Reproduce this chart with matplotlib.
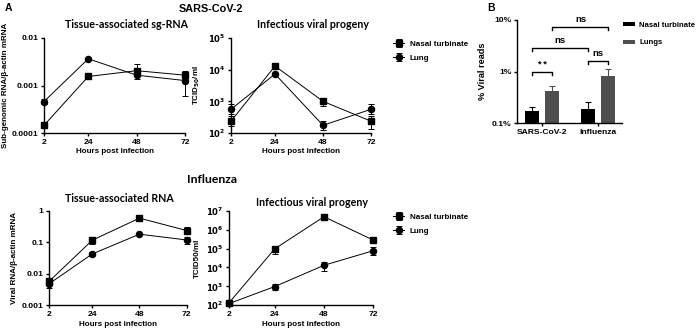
import matplotlib
matplotlib.use("Agg")
import matplotlib.pyplot as plt
import numpy as np

# ---------------- data ----------------
hours = [2, 24, 48, 72]

# SARS-CoV-2 tissue-associated sg-RNA
sars_rna_nasal = [1.45e-4, 1.55e-3, 2.05e-3, 1.65e-3]
sars_rna_nasal_lo = [1.30e-4, 1.35e-3, 1.60e-3, 1.40e-3]
sars_rna_nasal_hi = [1.60e-4, 1.80e-3, 2.80e-3, 2.00e-3]
sars_rna_lung = [4.6e-4, 3.65e-3, 1.65e-3, 1.27e-3]
sars_rna_lung_lo = [4.0e-4, 3.5e-3, 1.40e-3, 6.1e-4]
sars_rna_lung_hi = [5.2e-4, 3.8e-3, 2.00e-3, 1.80e-3]

# SARS-CoV-2 infectious viral progeny
sars_tcid_nasal = [236, 1.3e4, 1000, 236]
sars_tcid_nasal_lo = [170, 1.1e4, 710, 138]
sars_tcid_nasal_hi = [340, 1.55e4, 1310, 340]
sars_tcid_lung = [560, 7300, 175, 560]
sars_tcid_lung_lo = [400, 6800, 128, 384]
sars_tcid_lung_hi = [800, 7800, 240, 800]

# Influenza tissue-associated RNA
flu_rna_nasal = [0.0057, 0.116, 0.58, 0.235]
flu_rna_nasal_lo = [0.0050, 0.090, 0.47, 0.18]
flu_rna_nasal_hi = [0.0065, 0.140, 0.72, 0.30]
flu_rna_lung = [0.0048, 0.0425, 0.18, 0.118]
flu_rna_lung_lo = [0.0035, 0.037, 0.165, 0.09]
flu_rna_lung_hi = [0.0060, 0.048, 0.195, 0.15]

# Influenza infectious viral progeny
flu_tcid_nasal = [140, 9.5e4, 4.8e6, 2.8e5]
flu_tcid_nasal_lo = [120, 4.9e4, 4.4e6, 2.3e5]
flu_tcid_nasal_hi = [165, 1.35e5, 5.2e6, 3.5e5]
flu_tcid_lung = [125, 970, 1.3e4, 7.7e4]
flu_tcid_lung_lo = [110, 645, 6.8e3, 4.6e4]
flu_tcid_lung_hi = [140, 1340, 2.0e4, 1.15e5]

# Panel B: % viral reads
viruses = ["SARS-CoV-2", "Influenza"]
reads_nasal = [0.175, 0.187]
reads_nasal_err = [0.035, 0.073]
reads_lungs = [0.43, 0.82]
reads_lungs_err = [0.09, 0.33]
reads_ticks = [0.1, 1, 10]
reads_ticklabels = ["0.1%", "1%", "10%"]

series_names = ["Nasal turbinate", "Lung"]
bar_names = ["Nasal turbinate", "Lungs"]

# ---------------- style ----------------
W, H = 697, 331
plt.rcParams['font.family'] = ['Liberation Sans', 'DejaVu Sans']
plt.rcParams['font.weight'] = 'bold'
plt.rcParams['axes.labelweight'] = 'bold'
plt.rcParams['mathtext.default'] = 'bf'
fig = plt.figure(figsize=(W / 100, H / 100), dpi=100)
TITLE_FONT = ['Lato', 'DejaVu Sans']
FS = 6.1
LFS = 5.8


def rect(x0, x1, ytop, ybot):
    return [x0 / W, 1 - ybot / H, (x1 - x0) / W, (ybot - ytop) / H]


def style_axes(ax):
    for s in ['top', 'right']:
        ax.spines[s].set_visible(False)
    for s in ['left', 'bottom']:
        ax.spines[s].set_linewidth(1.0)
    ax.tick_params(axis='both', which='major', length=2.5, width=1.0,
                   labelsize=FS, pad=1.5)
    for lab in ax.get_xticklabels() + ax.get_yticklabels():
        lab.set_fontweight('bold')
    ax.minorticks_off()


def line_panel(r, nasal, nlo, nhi, lung, llo, lhi, ylim, yticks, yticklabels,
               ylabel, ylabelpad, title, title_xy, legend_y=None):
    ax = fig.add_axes(r)
    ax.set_yscale('log')
    nasal = np.array(nasal); lung = np.array(lung)
    kw = dict(color='black', lw=0.7, elinewidth=0.7, capsize=2.0,
              capthick=0.7, clip_on=False, ms=4.4)
    h1 = ax.errorbar(hours, nasal, yerr=[nasal - np.array(nlo), np.array(nhi) - nasal],
                     marker='s', label=series_names[0], **kw)
    h2 = ax.errorbar(hours, lung, yerr=[lung - np.array(llo), np.array(lhi) - lung],
                     marker='o', label=series_names[1], **kw)
    ax.set_xlim(2, 72)
    ax.set_ylim(*ylim)
    ax.set_xticks(hours)
    ax.set_xticklabels([str(h) for h in hours])
    ax.set_yticks(yticks)
    ax.set_yticklabels(yticklabels)
    style_axes(ax)
    ax.set_xlabel("Hours post infection", fontsize=LFS, labelpad=2, fontweight='bold')
    ax.set_ylabel(ylabel, fontsize=LFS, labelpad=ylabelpad, fontweight='bold')
    fig.text(title_xy[0] / W, 1 - title_xy[1] / H, title, family=TITLE_FONT,
             weight='bold', fontsize=7.7, ha='center', va='center')
    if legend_y is not None:
        ax.legend(handles=[h1, h2], loc='upper left',
                  bbox_to_anchor=(393 / W, 1 - legend_y / H),
                  bbox_transform=fig.transFigure, frameon=False,
                  prop=dict(size=LFS, weight='bold'), handlelength=1.4,
                  handletextpad=0.7, labelspacing=0.85, borderaxespad=0, borderpad=0)
    return ax


sup = lambda e: r'$\mathbf{10^{%d}}$' % e

ax1 = line_panel(rect(44, 185, 38, 133), sars_rna_nasal, sars_rna_nasal_lo, sars_rna_nasal_hi,
                 sars_rna_lung, sars_rna_lung_lo, sars_rna_lung_hi,
                 (1e-4, 1e-2), [1e-4, 1e-3, 1e-2], ["0.0001", "0.001", "0.01"],
                 "Sub-genomic RNA/β-actin mRNA", 2, "Tissue-associated sg-RNA", (126, 25))
ax2 = line_panel(rect(231, 371, 38, 133), sars_tcid_nasal, sars_tcid_nasal_lo, sars_tcid_nasal_hi,
                 sars_tcid_lung, sars_tcid_lung_lo, sars_tcid_lung_hi,
                 (1e2, 1e5), [1e2, 1e3, 1e4, 1e5], [sup(e) for e in [2, 3, 4, 5]],
                 r'TCID$_{\mathbf{50}}$/ml', 4, "Infectious viral progeny", (313, 25), legend_y=40)
ax3 = line_panel(rect(49, 186.7, 210.7, 305.3), flu_rna_nasal, flu_rna_nasal_lo, flu_rna_nasal_hi,
                 flu_rna_lung, flu_rna_lung_lo, flu_rna_lung_hi,
                 (1e-3, 1), [1e-3, 1e-2, 1e-1, 1], ["0.001", "0.01", "0.1", "1"],
                 "Viral RNA/β-actin mRNA", 3, "Tissue-associated RNA", (119, 198))
ax4 = line_panel(rect(229.3, 373.3, 210.7, 305.3), flu_tcid_nasal, flu_tcid_nasal_lo, flu_tcid_nasal_hi,
                 flu_tcid_lung, flu_tcid_lung_lo, flu_tcid_lung_hi,
                 (1e2, 1e7), [1e2, 1e3, 1e4, 1e5, 1e6, 1e7], [sup(e) for e in range(2, 8)],
                 "TCID50/ml", 4, "Infectious viral progeny", (312, 202), legend_y=213)

# headings
fig.text(5 / W, 1 - 8 / H, "A", fontsize=7.5, weight='bold', va='center', ha='left')
fig.text(487 / W, 1 - 8 / H, "B", fontsize=7.5, weight='bold', va='center', ha='left')
fig.text(211 / W, 1 - 9 / H, "SARS-CoV-2", fontsize=7.8, weight='bold', va='center', ha='center')
fig.text(212 / W, 1 - 179 / H, "Influenza", family=TITLE_FONT, fontsize=8.8, weight='bold',
         va='center', ha='center')

# ---------------- panel B ----------------
axb = fig.add_axes(rect(517.3, 621.7, 20, 123.3))
axb.set_yscale('log')
x = np.arange(len(viruses))
off, bw = 0.183, 0.25
axb.bar(x - off, reads_nasal, bw, yerr=reads_nasal_err, color='black',
        error_kw=dict(elinewidth=0.8, capsize=2.2, capthick=0.8, ecolor='black'),
        label=bar_names[0])
axb.bar(x + off, reads_lungs, bw, yerr=reads_lungs_err, color='#4f4f4f',
        error_kw=dict(elinewidth=0.8, capsize=2.2, capthick=0.8, ecolor='#4f4f4f'),
        label=bar_names[1])
axb.set_ylim(0.1, 10)
axb.set_xlim(-0.446, 1.42)
axb.set_yticks(reads_ticks)
axb.set_yticklabels(reads_ticklabels)
axb.set_xticks(x)
axb.set_xticklabels(viruses)
style_axes(axb)
axb.set_ylabel("% Viral reads", fontsize=6.6, labelpad=4, fontweight='bold')

# significance brackets (between bar centres)
brackets = [(0 - off, 0 + off, 1.0, "* *"),
            (0 - off, 1 - off, 2.9, "ns"),
            (1 - off, 1 + off, 1.63, "ns"),
            (0 + off, 1 + off, 7.4, "ns")]
for xa, xb, yv, txt in brackets:
    leg = yv / 1.18
    axb.plot([xa, xa, xb, xb], [leg, yv, yv, leg], color='black', lw=1.0, clip_on=False)
    axb.text((xa + xb) / 2, yv * 1.12, txt, ha='center', va='bottom', fontsize=6.8,
             weight='bold')

axb.legend(loc='upper left', bbox_to_anchor=(623 / W, 1 - 22 / H),
           bbox_transform=fig.transFigure, frameon=False,
           prop=dict(size=5.6, weight='bold'),
           handlelength=1.5, handleheight=0.5, handletextpad=0.6,
           labelspacing=1.35, borderaxespad=0, borderpad=0)

fig.savefig("out.png", dpi=100)
